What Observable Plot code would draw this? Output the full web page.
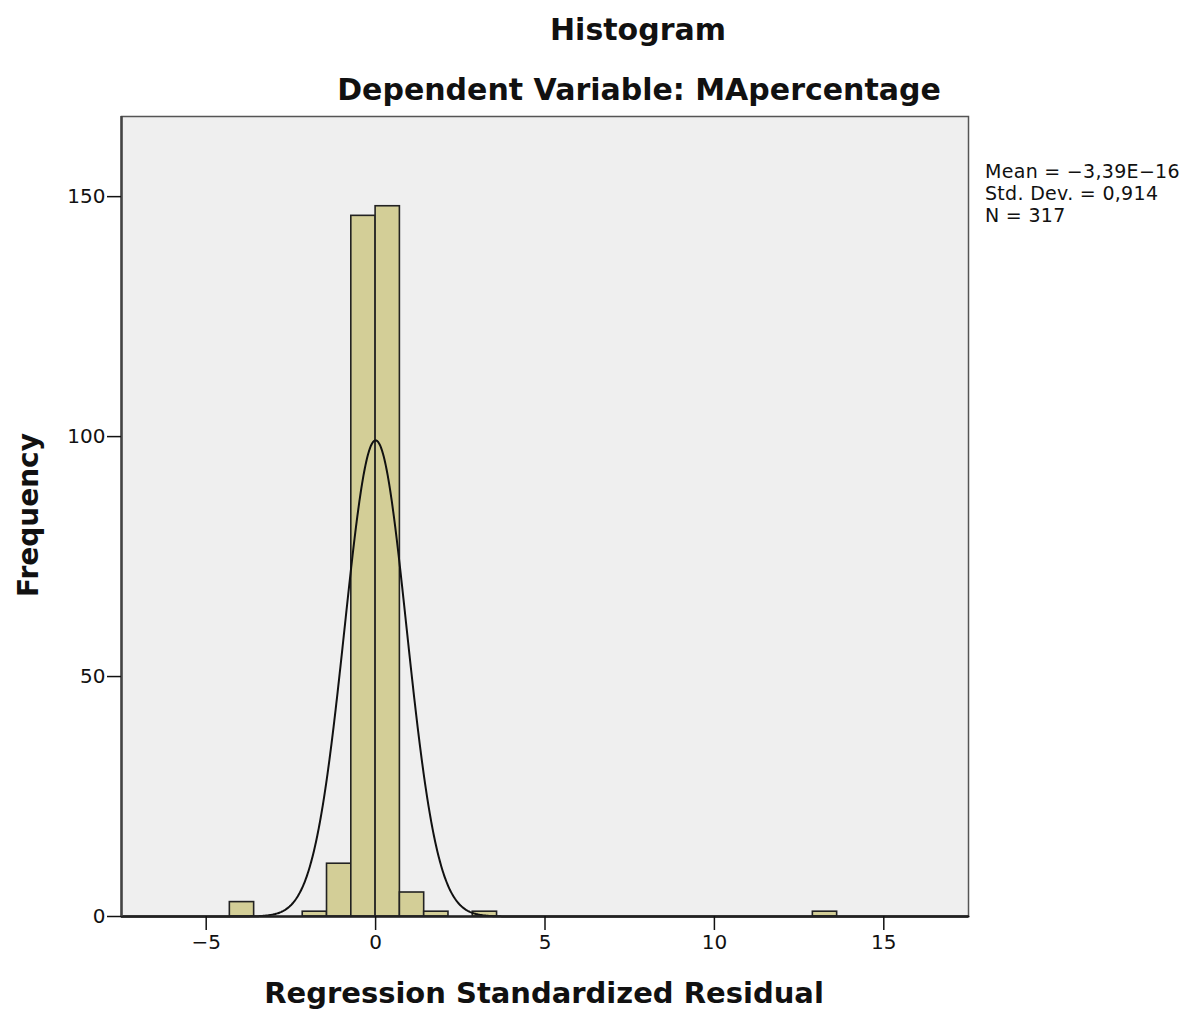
<!DOCTYPE html>
<html><head><meta charset="utf-8">
<script src="https://cdn.jsdelivr.net/npm/d3@7"></script>
<script src="https://cdn.jsdelivr.net/npm/@observablehq/plot@0.6"></script>
<style>
body{margin:0;background:#fff;font-family:"DejaVu Sans",sans-serif}
#wrap{position:relative;width:1201px;height:1012px}
.t{position:absolute;font-weight:bold;white-space:nowrap;color:#111;transform:translate(-50%,-50%)}
.leg{position:absolute;left:985px;top:160px;font-size:19px;line-height:22px;letter-spacing:0.3px;color:#111;white-space:nowrap}
.leg div{height:22px}
</style></head><body><div id="wrap"></div>
<script>
// Histogram bins (lower edge, count)
const binWidth = 0.717;
const binStart = [-4.302, -2.151, -1.434, -0.717, 0, 0.717, 1.434, 2.868, 12.906];
const counts = [3, 1, 11, 146, 148, 5, 1, 1, 1];
const xTicks = [-5, 0, 5, 10, 15];
const yTicks = [0, 50, 100, 150];
const legendLines = ["Mean = \u22123,39E\u221216", "Std. Dev. = 0,914", "N = 317"];
const statMean = -3.39e-16, statSd = 0.914, statN = 317;

const bins = binStart.map((s, i) => ({x1: s, x2: s + binWidth, count: counts[i]}));
// fitted normal curve defined by the legend statistics
const peak = statN * binWidth / (statSd * Math.sqrt(2 * Math.PI));
const curve = d3.range(-7.5, 17.5001, 0.02).map(x => ({x, y: peak * Math.exp(-0.5 * ((x - statMean) / statSd) ** 2)}));

const chart = Plot.plot({
  width: 1201, height: 1012,
  marginLeft: 121, marginRight: 233, marginTop: 116, marginBottom: 96,
  x: {domain: [-7.5, 17.5]},
  y: {domain: [0, 166.7]},
  style: {fontSize: "20px", fontFamily: "DejaVu Sans, sans-serif", background: "white", color: "#111"},
  marks: [
    Plot.frame({fill: "#efefef", stroke: "#555", strokeWidth: 1.5}),
    Plot.rectY(bins, {x1: "x1", x2: "x2", y: "count", fill: "#d3ce97", stroke: "#222", strokeWidth: 1.6}),
    Plot.line(curve, {x: "x", y: "y", stroke: "#111", strokeWidth: 2}),
    Plot.ruleY([0], {stroke: "#222", strokeWidth: 2.5}),
    Plot.ruleX([-7.5], {stroke: "#444", strokeWidth: 2.5}),
    Plot.axisX({ticks: xTicks, tickSize: 14, tickPadding: 4, label: null, strokeWidth: 1.5}),
    Plot.axisY({ticks: yTicks, tickSize: 14, tickPadding: 2, label: null, strokeWidth: 1.5})
  ]
});
const wrap = document.getElementById("wrap");
wrap.appendChild(chart);
function addText(txt, x, y, size, rot) {
  const d = document.createElement("div");
  d.className = "t"; d.textContent = txt;
  d.style.left = x + "px"; d.style.top = y + "px"; d.style.fontSize = size + "px";
  if (rot) d.style.transform = "translate(-50%,-50%) rotate(-90deg)";
  wrap.appendChild(d);
}
addText("Histogram", 638, 29, 30);
addText("Dependent Variable: MApercentage", 639, 89, 30);
addText("Regression Standardized Residual", 544, 993, 29);
addText("Frequency", 28, 515, 28, true);
const leg = document.createElement("div");
leg.className = "leg";
legendLines.forEach(t => { const l = document.createElement("div"); l.textContent = t; leg.appendChild(l); });
wrap.appendChild(leg);
</script></body></html>
